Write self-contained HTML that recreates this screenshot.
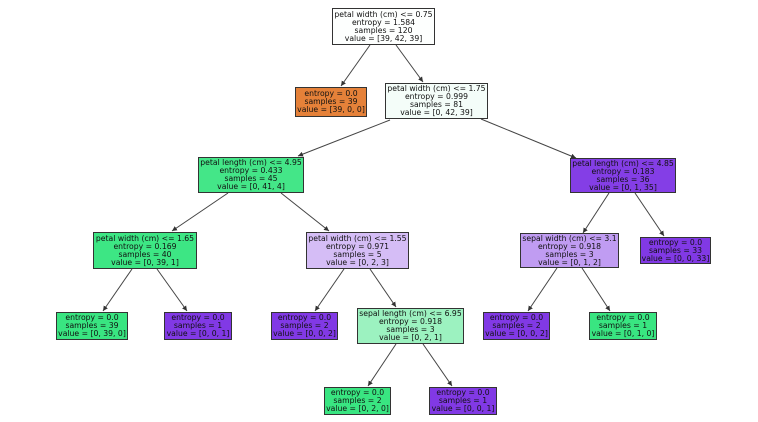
<!DOCTYPE html>
<html><head><meta charset="utf-8"><style>
body{margin:0;width:758px;height:422px;background:#fff;position:relative;overflow:hidden;font-family:"DejaVu Sans","Liberation Sans",sans-serif;}
.n{position:absolute;box-sizing:border-box;border:1px solid #333;font-size:7.7px;line-height:8px;text-align:center;color:#111;display:flex;flex-direction:column;justify-content:center;white-space:nowrap;}
svg{position:absolute;left:0;top:0;}
</style></head><body>
<svg width="758" height="422">
<defs><marker id="a" markerWidth="6" markerHeight="6" refX="5" refY="3" orient="auto"><path d="M0,0.5 L5,3 L0,5.5 z" fill="#333"/></marker></defs>
<g stroke="#444" stroke-width="1" marker-end="url(#a)">
<line x1="370" y1="45" x2="341" y2="86"/>
<line x1="396" y1="45" x2="423" y2="82"/>
<line x1="390" y1="120" x2="298" y2="156"/>
<line x1="481" y1="119" x2="576" y2="158"/>
<line x1="228" y1="193" x2="172" y2="231"/>
<line x1="281" y1="193" x2="329" y2="231"/>
<line x1="132" y1="269" x2="103" y2="311"/>
<line x1="157" y1="269" x2="187" y2="311"/>
<line x1="344" y1="269" x2="315" y2="311"/>
<line x1="370" y1="269" x2="396" y2="307"/>
<line x1="396" y1="344" x2="368" y2="386"/>
<line x1="423" y1="344" x2="452" y2="386"/>
<line x1="609" y1="193" x2="583" y2="233"/>
<line x1="635" y1="193" x2="664" y2="236"/>
<line x1="557" y1="268" x2="528" y2="311"/>
<line x1="582" y1="268" x2="610" y2="311"/>
</g></svg>
<div class="n" style="left:332px;top:8px;width:103px;height:37px;background:#fdfffe">petal width (cm) &lt;= 0.75<br>entropy = 1.584<br>samples = 120<br>value = [39, 42, 39]</div>
<div class="n" style="left:295px;top:87px;width:72px;height:30px;background:#e58139">entropy = 0.0<br>samples = 39<br>value = [39, 0, 0]</div>
<div class="n" style="left:385px;top:83px;width:103px;height:36px;background:#f4fdf9">petal width (cm) &lt;= 1.75<br>entropy = 0.999<br>samples = 81<br>value = [0, 42, 39]</div>
<div class="n" style="left:198px;top:157px;width:106px;height:36px;background:#44e688">petal length (cm) &lt;= 4.95<br>entropy = 0.433<br>samples = 45<br>value = [0, 41, 4]</div>
<div class="n" style="left:570px;top:158px;width:106px;height:35px;background:#843ee6">petal length (cm) &lt;= 4.85<br>entropy = 0.183<br>samples = 36<br>value = [0, 1, 35]</div>
<div class="n" style="left:93px;top:232px;width:104px;height:37px;background:#3de684">petal width (cm) &lt;= 1.65<br>entropy = 0.169<br>samples = 40<br>value = [0, 39, 1]</div>
<div class="n" style="left:306px;top:232px;width:103px;height:37px;background:#d5bdf6">petal width (cm) &lt;= 1.55<br>entropy = 0.971<br>samples = 5<br>value = [0, 2, 3]</div>
<div class="n" style="left:520px;top:233px;width:99px;height:35px;background:#c09cf2">sepal width (cm) &lt;= 3.1<br>entropy = 0.918<br>samples = 3<br>value = [0, 1, 2]</div>
<div class="n" style="left:640px;top:237px;width:71px;height:27px;background:#8139e5">entropy = 0.0<br>samples = 33<br>value = [0, 0, 33]</div>
<div class="n" style="left:56px;top:312px;width:72px;height:28px;background:#39e581">entropy = 0.0<br>samples = 39<br>value = [0, 39, 0]</div>
<div class="n" style="left:164px;top:312px;width:68px;height:28px;background:#8139e5">entropy = 0.0<br>samples = 1<br>value = [0, 0, 1]</div>
<div class="n" style="left:271px;top:312px;width:67px;height:28px;background:#8139e5">entropy = 0.0<br>samples = 2<br>value = [0, 0, 2]</div>
<div class="n" style="left:357px;top:308px;width:107px;height:36px;background:#9cf2c0">sepal length (cm) &lt;= 6.95<br>entropy = 0.918<br>samples = 3<br>value = [0, 2, 1]</div>
<div class="n" style="left:483px;top:312px;width:67px;height:28px;background:#8139e5">entropy = 0.0<br>samples = 2<br>value = [0, 0, 2]</div>
<div class="n" style="left:589px;top:312px;width:68px;height:28px;background:#39e581">entropy = 0.0<br>samples = 1<br>value = [0, 1, 0]</div>
<div class="n" style="left:324px;top:387px;width:67px;height:28px;background:#39e581">entropy = 0.0<br>samples = 2<br>value = [0, 2, 0]</div>
<div class="n" style="left:429px;top:387px;width:68px;height:28px;background:#8139e5">entropy = 0.0<br>samples = 1<br>value = [0, 0, 1]</div>
</body></html>
